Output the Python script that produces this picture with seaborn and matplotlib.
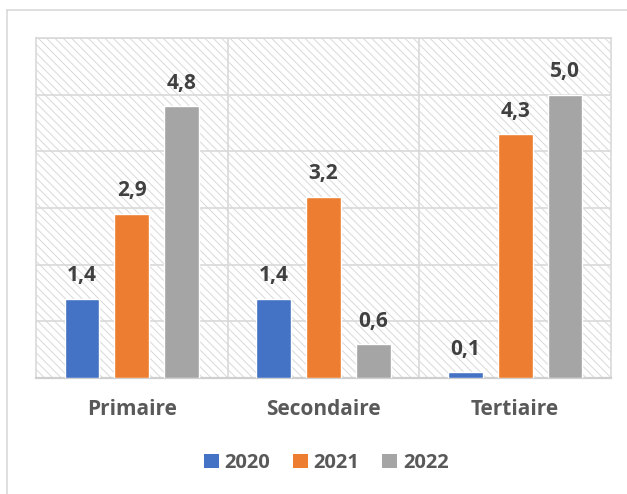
import numpy as np
import pandas as pd
import matplotlib
matplotlib.use("Agg")
import matplotlib.pyplot as plt
from matplotlib.patches import Patch, Rectangle
from matplotlib.lines import Line2D
import seaborn as sns

# data
categories = ["Primaire", "Secondaire", "Tertiaire"]
years = ["2020", "2021", "2022"]
v2020 = [1.4, 1.4, 0.1]
v2021 = [2.9, 3.2, 4.3]
v2022 = [4.8, 0.6, 5.0]
colors = ["#4472C4", "#ED7D31", "#A5A5A5"]

df = pd.DataFrame({
    "cat": categories * 3,
    "year": [y for y in years for _ in categories],
    "val": v2020 + v2021 + v2022,
})

sns.set_style("white")
plt.rcParams["font.family"] = ["Open Sans", "DejaVu Sans"]
plt.rcParams["hatch.linewidth"] = 0.7

fig = plt.figure(figsize=(6.27, 4.94), dpi=100)
ax = fig.add_axes([36/627, 1-378/494, (611-36)/627, (378-38)/494])

# hatched background
ax.add_patch(Rectangle((0, 0), 1, 1, transform=ax.transAxes, facecolor="white",
                       edgecolor="#d9d9d9", hatch="\\\\\\\\", linewidth=0, zorder=0))

sns.barplot(data=df, x="cat", y="val", hue="year", palette=colors,
            width=0.78, gap=0.3, ax=ax, legend=False, saturation=1, zorder=3)

for cont in ax.containers:
    ax.bar_label(cont, labels=[f"{v:.1f}".replace(".", ",") for v in cont.datavalues],
                 padding=9, fontsize=15, fontweight="bold", color="#404040")

ax.set_ylim(0, 6)
ax.set_xlim(-0.5, 2.5)
ax.set_yticks(np.arange(0, 7, 1))
ax.set_yticklabels([])
ax.set_xlabel("")
ax.set_ylabel("")
ax.grid(axis="y", color="#d9d9d9", linewidth=1.2, zorder=1)
for xv in [0.5, 1.5]:
    ax.axvline(xv, color="#d9d9d9", linewidth=1.2, zorder=1)
ax.set_axisbelow(True)
for s in ["top", "left", "right"]:
    ax.spines[s].set_color("#d9d9d9")
    ax.spines[s].set_linewidth(1.2)
ax.spines["bottom"].set_color("#cfcfcf")
ax.spines["bottom"].set_linewidth(1.6)
ax.tick_params(axis="x", length=0, pad=15, labelsize=15, labelcolor="#595959")
ax.tick_params(axis="y", length=0)
for t in ax.get_xticklabels():
    t.set_fontweight("bold")

handles = [Patch(facecolor=c, edgecolor="none") for c in colors]
fig.legend(handles, years, loc="center", bbox_to_anchor=(0.52, 1-463/494),
           ncol=3, frameon=False, handlelength=0.75, handleheight=0.75,
           handletextpad=0.3, columnspacing=1.1,
           prop={"size": 14.5, "weight": "bold"}, labelcolor="#595959")

# outer chart frame (left and top edges visible)
fig.add_artist(Line2D([7/627, 7/627], [0, 1-10/494], transform=fig.transFigure,
                      color="#d9d9d9", linewidth=1.2))
fig.add_artist(Line2D([7/627, 1], [1-10/494, 1-10/494], transform=fig.transFigure,
                      color="#d9d9d9", linewidth=1.2))

fig.savefig("out.png", dpi=100)
